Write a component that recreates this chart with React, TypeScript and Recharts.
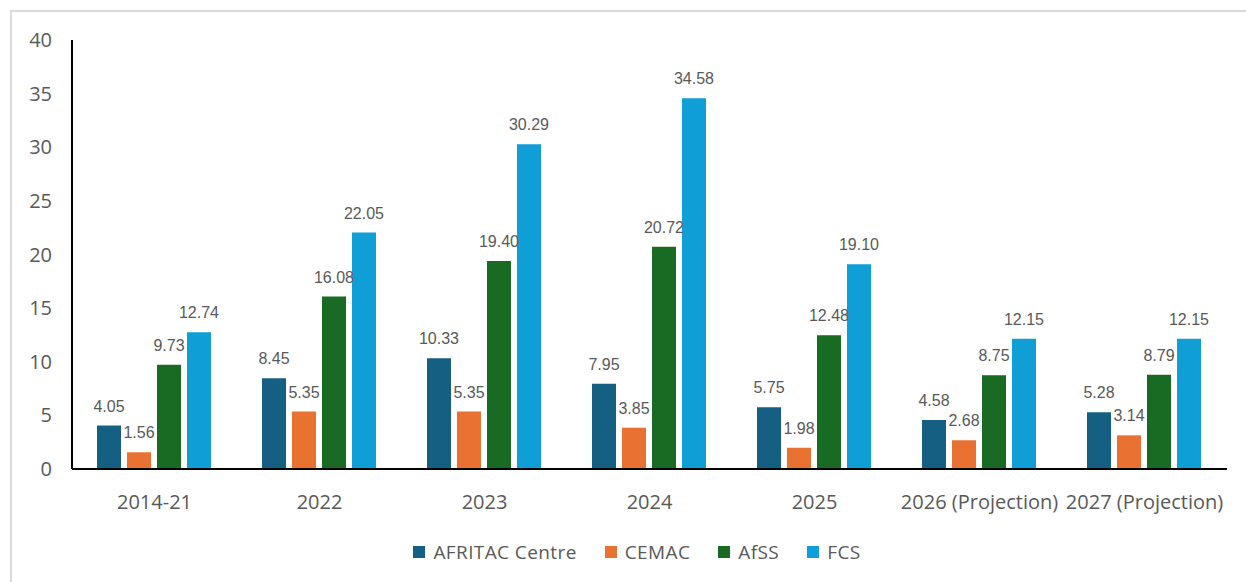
import React from 'react';
import { BarChart, Bar, XAxis, YAxis, Legend, LabelList } from 'recharts';

const categories = ['2014-21', '2022', '2023', '2024', '2025', '2026 (Projection)', '2027 (Projection)'];
const afritacCentre = [4.05, 8.45, 10.33, 7.95, 5.75, 4.58, 5.28];
const cemac = [1.56, 5.35, 5.35, 3.85, 1.98, 2.68, 3.14];
const afss = [9.73, 16.08, 19.4, 20.72, 12.48, 8.75, 8.79];
const fcs = [12.74, 22.05, 30.29, 34.58, 19.1, 12.15, 12.15];
const yTicks = [0, 5, 10, 15, 20, 25, 30, 35, 40];

const SERIES = [
  { key: 'AFRITAC Centre', color: '#156082' },
  { key: 'CEMAC', color: '#E97132' },
  { key: 'AfSS', color: '#196B24' },
  { key: 'FCS', color: '#0F9ED5' },
];

const data = categories.map((name, i) => ({
  name,
  'AFRITAC Centre': afritacCentre[i],
  CEMAC: cemac[i],
  AfSS: afss[i],
  FCS: fcs[i],
}));

const GRAY = '#595959';

// keep series order (recharts sorts legend payload by default)
const renderLegend = (props: any) => {
  const { payload } = props;
  const items = SERIES.map((s) => payload.find((p: any) => p.value === s.key)).filter(Boolean);
  return (
    <div style={{ display: 'flex', justifyContent: 'center', alignItems: 'center', height: 24, paddingLeft: 47 }}>
      {items.map((entry: any, i: number) => (
        <div key={`leg-${i}`} style={{ display: 'flex', alignItems: 'center', marginRight: i < items.length - 1 ? 28 : 0 }}>
          <span style={{ display: 'inline-block', width: 12, height: 12, background: entry.color, marginRight: 8 }} />
          <span style={{ fontSize: 19, letterSpacing: 0.4, color: GRAY, fontFamily: '"Open Sans", sans-serif' }}>{entry.value}</span>
        </div>
      ))}
    </div>
  );
};

export default function App() {
  return (
    <div style={{ position: 'absolute', left: 0, top: 0, width: 1246, height: 582, background: '#fff', overflow: 'hidden' }}>
      <div
        style={{
          position: 'absolute',
          left: 10,
          top: 10,
          right: -10,
          bottom: -10,
          borderTop: '2px solid #dadada',
          borderLeft: '2px solid #dadada',
        }}
      />
      <div style={{ position: 'absolute', left: 0, top: 0 }}>
        <BarChart
          width={1246}
          height={582}
          data={data}
          margin={{ top: 40, right: 19, left: 0, bottom: 39 }}
          barGap={6}
          barCategoryGap={25}
          style={{ fontFamily: '"Open Sans", sans-serif' }}
        >
          <XAxis
            dataKey="name"
            axisLine={{ stroke: '#000', strokeWidth: 2 }}
            tickLine={false}
            tickSize={0}
            tickMargin={26}
            height={50}
            interval={0}
            tick={{ fill: GRAY, fontSize: 20 }}
          />
          <YAxis
            domain={[0, 40]}
            ticks={yTicks}
            width={72}
            axisLine={{ stroke: '#000', strokeWidth: 2 }}
            tickLine={false}
            tickSize={0}
            tickMargin={20}
            tick={{ fill: GRAY, fontSize: 20 }}
          />
          <Legend verticalAlign="bottom" content={renderLegend} wrapperStyle={{ height: 24, bottom: 18 }} />
          {SERIES.map((s) => (
            <Bar key={s.key} dataKey={s.key} fill={s.color} isAnimationActive={false}>
              <LabelList
                dataKey={s.key}
                position="top"
                offset={14}
                fill={GRAY}
                fontSize={16}
                fontFamily='"Liberation Sans", Arial, sans-serif'
                formatter={(v: any) => Number(v).toFixed(2)}
              />
            </Bar>
          ))}
        </BarChart>
      </div>
    </div>
  );
}
